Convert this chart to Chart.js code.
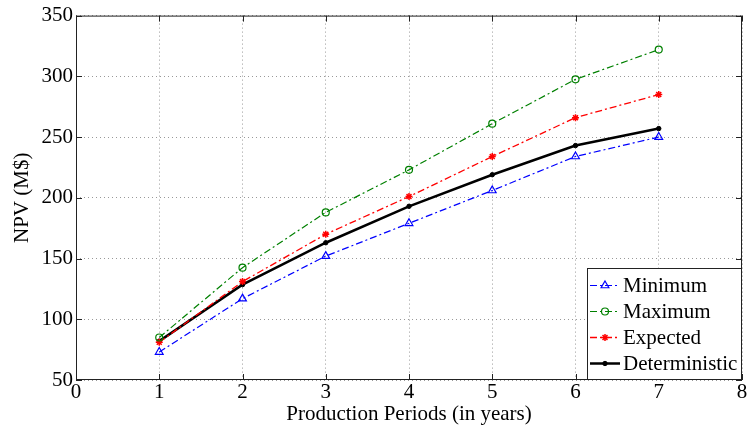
<!DOCTYPE html>
<html>
<head>
<meta charset="utf-8">
<script src="https://cdn.jsdelivr.net/npm/chart.js@4.4.1/dist/chart.umd.min.js"></script>
<style>
  html, body { margin: 0; padding: 0; background: #fff; }
  #wrap { width: 748px; height: 427px; }
</style>
</head>
<body>
<div id="wrap"><canvas id="npv-chart"></canvas></div>
<script>
const periods = [1, 2, 3, 4, 5, 6, 7]
const minimum = [73, 117, 152, 179, 206, 234, 250]
const maximum = [85, 142.5, 188, 223, 261, 297.5, 322]
const expected = [81, 131, 170, 201, 234, 266, 285]
const deterministic = [82, 128.5, 163, 193, 219, 243, 257]
const xTicks = [0, 1, 2, 3, 4, 5, 6, 7, 8]
const yTicks = [50, 100, 150, 200, 250, 300, 350]

const FONT = '"Liberation Serif", "Times New Roman", serif'
const dashDot = [7, 3, 2, 3]

const pts = (ys) => periods.map((x, i) => ({ x: x, y: ys[i] }))

// frame + inward ticks, like a matlab axes box
const boxPlugin = {
  id: 'box',
  afterDraw(chart) {
    const { ctx, chartArea: a, scales } = chart
    ctx.save()
    ctx.strokeStyle = '#222'
    ctx.lineWidth = 1
    ctx.strokeRect(a.left + 0.5, a.top + 0.5, a.right - a.left - 1, a.bottom - a.top - 1)
    ctx.beginPath()
    xTicks.forEach(v => {
      const px = Math.round(scales.x.getPixelForValue(v)) + 0.5
      ctx.moveTo(px, a.bottom); ctx.lineTo(px, a.bottom - 6)
      ctx.moveTo(px, a.top); ctx.lineTo(px, a.top + 6)
    })
    yTicks.forEach(v => {
      const py = Math.round(scales.y.getPixelForValue(v)) + 0.5
      ctx.moveTo(a.left, py); ctx.lineTo(a.left + 6, py)
      ctx.moveTo(a.right, py); ctx.lineTo(a.right - 6, py)
    })
    ctx.stroke()
    ctx.restore()
  }
}

// legend box in the lower right corner of the plot
const legendPlugin = {
  id: 'cornerLegend',
  afterDraw(chart) {
    const { ctx, chartArea: a } = chart
    const w = 155, rowH = 26, h = chart.data.datasets.length * rowH + 8
    const x0 = a.right - w, y0 = a.bottom - h
    ctx.save()
    ctx.fillStyle = '#fff'
    ctx.fillRect(x0, y0, w, h)
    ctx.strokeStyle = '#222'
    ctx.lineWidth = 1
    ctx.strokeRect(x0 + 0.5, y0 + 0.5, w - 1, h - 1)
    ctx.font = '21px ' + FONT
    ctx.textBaseline = 'middle'
    chart.data.datasets.forEach((ds, i) => {
      const cy = Math.round(y0 + 17 + i * rowH) + 0.5
      ctx.strokeStyle = ds.borderColor
      ctx.lineWidth = ds.borderWidth
      ctx.setLineDash(ds.borderDash || [])
      ctx.beginPath()
      ctx.moveTo(x0 + 3, cy); ctx.lineTo(x0 + 33, cy)
      ctx.stroke()
      ctx.setLineDash([])
      ctx.fillStyle = ds.pointBackgroundColor
      ctx.lineWidth = ds.pointBorderWidth || 1
      Chart.helpers.drawPoint(ctx, {
        pointStyle: ds.pointStyle, radius: ds.pointRadius, borderWidth: ds.pointBorderWidth || 1
      }, x0 + 18, cy)
      ctx.fillStyle = '#000'
      ctx.fillText(ds.label, x0 + 36, cy + 1)
    })
    ctx.restore()
  }
}

new Chart(document.getElementById('npv-chart'), {
  type: 'line',
  data: {
    datasets: [
      {
        label: 'Minimum', data: pts(minimum),
        borderColor: '#0000ff', backgroundColor: '#ffffff', borderWidth: 1.2, borderDash: dashDot,
        pointStyle: 'triangle', pointRadius: 4.5, pointBorderWidth: 1.2, pointBackgroundColor: 'rgba(0,0,0,0)'
      },
      {
        label: 'Maximum', data: pts(maximum),
        borderColor: '#008000', backgroundColor: '#ffffff', borderWidth: 1.2, borderDash: dashDot,
        pointStyle: 'circle', pointRadius: 3.5, pointBorderWidth: 1.2, pointBackgroundColor: 'rgba(0,0,0,0)'
      },
      {
        label: 'Expected', data: pts(expected),
        borderColor: '#ff0000', backgroundColor: '#ff0000', borderWidth: 1.3, borderDash: dashDot,
        pointStyle: 'star', pointRadius: 3.5, pointBorderWidth: 1.5, pointBackgroundColor: '#ff0000'
      },
      {
        label: 'Deterministic', data: pts(deterministic),
        borderColor: '#000000', backgroundColor: '#000000', borderWidth: 2.5,
        pointStyle: 'circle', pointRadius: 2.2, pointBorderWidth: 1, pointBackgroundColor: '#000000'
      }
    ]
  },
  options: {
    responsive: true,
    maintainAspectRatio: false,
    animation: false,
    layout: { padding: { top: 15, right: 6, left: 10, bottom: 0 } },
    plugins: {
      legend: { display: false },
      tooltip: { enabled: false }
    },
    elements: { line: { tension: 0 } },
    scales: {
      x: {
        type: 'linear', min: 0, max: 8,
        afterBuildTicks: (s) => { s.ticks = xTicks.map(v => ({ value: v })) },
        afterFit: (s) => { s.height = 47 },
        ticks: { color: '#000', font: { family: FONT, size: 21 }, padding: 0, maxRotation: 0 },
        grid: { color: '#999', drawTicks: false, lineWidth: 1 },
        border: { display: false, dash: [1, 3] },
        title: {
          display: true, text: 'Production Periods (in years)', color: '#000',
          font: { family: FONT, size: 21 }, padding: { top: -4, bottom: 0 }
        }
      },
      y: {
        type: 'linear', min: 50, max: 350,
        afterBuildTicks: (s) => { s.ticks = yTicks.map(v => ({ value: v })) },
        afterFit: (s) => { s.width = 66 },
        ticks: { color: '#000', font: { family: FONT, size: 21 }, padding: 3 },
        grid: { color: '#999', drawTicks: false, lineWidth: 1 },
        border: { display: false, dash: [1, 3] },
        title: {
          display: true, text: 'NPV (M$)', color: '#000',
          font: { family: FONT, size: 21 }, padding: { top: 0, bottom: 2 }
        }
      }
    }
  },
  plugins: [boxPlugin, legendPlugin]
})
</script>
</body>
</html>
